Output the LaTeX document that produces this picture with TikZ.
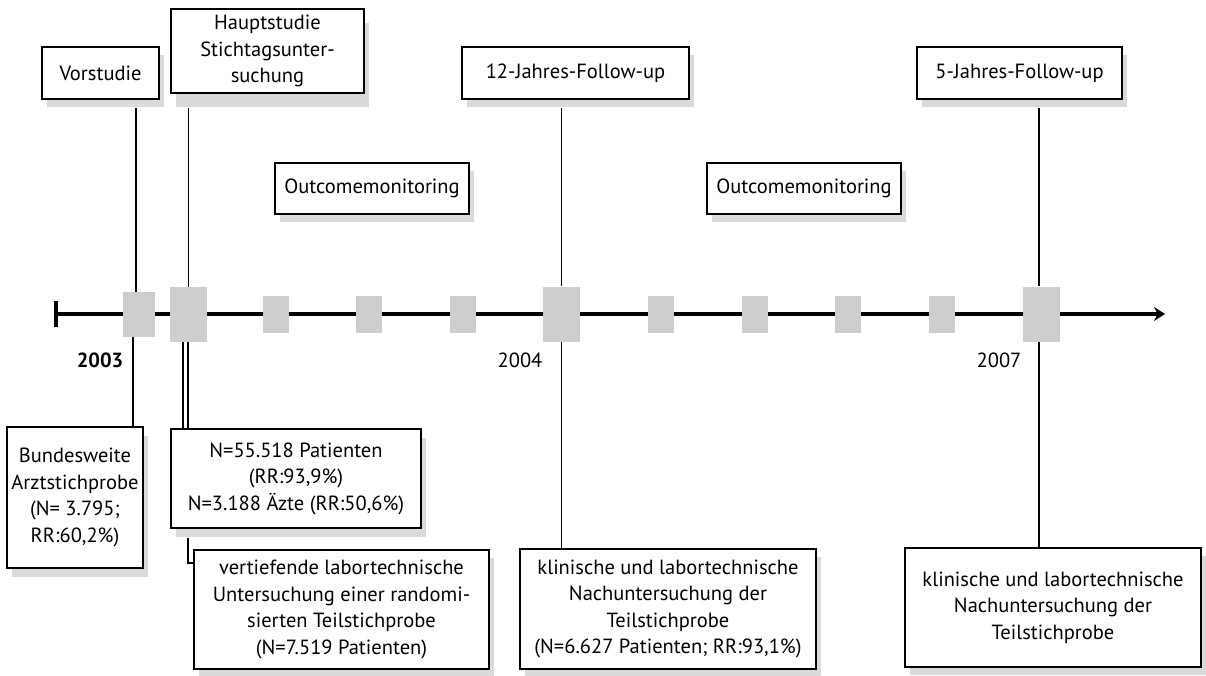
\documentclass[tikz,border=0pt]{standalone}
\usepackage{fontspec}
\setmainfont{PT Sans}
\usetikzlibrary{arrows.meta,shadows,calc}
\definecolor{slotgray}{HTML}{CECECE}
\definecolor{shadowgray}{HTML}{D9DAD9}

\begin{document}
\begin{tikzpicture}[x=1pt,y=-1pt,
    box/.style={draw,line width=1.8pt,fill=white,align=center,inner sep=0pt,
        font=\fontsize{20.5}{26.5}\selectfont,
        drop shadow={shadow xshift=5pt,shadow yshift=#1,fill=shadowgray,opacity=1}},
    box/.default=-8pt,
    slot/.style={fill=slotgray,inner sep=0pt,minimum width=26pt,minimum height=37pt},
    bigslot/.style={slot,minimum width=37pt,minimum height=55pt},
    conn/.style={line width=1.4pt},
    year/.style={font=\fontsize{20.5}{24}\selectfont}]
    \useasboundingbox (0,0) rectangle (1206,676);

    \coordinate (start) at (54,314);
    \coordinate (end) at (1165,314);
    \draw[line width=3.5pt,{Bar[width=26pt]}-{Stealth[length=11pt,width=14pt]}] (start) -- (end);

    \node[slot,minimum width=32pt,minimum height=45pt] (sqvor) at (139,314.5) {};
    \node[bigslot] (sqhaupt) at (188.5,314.5) {};
    \foreach \x [count=\i] in {276,369,463,661,755,848,942}
        \node[slot] (sq\i) at (\x,314.5) {};
    \node[bigslot] (sq12) at (561.5,314) {};
    \node[bigslot] (sq5) at (1041.5,314) {};

    \node[box,minimum width=117pt,minimum height=52pt] (vor) at (100.5,73) {Vorstudie};
    \node[box=-14pt,minimum width=193pt,minimum height=84pt] (haupt) at (267.5,51) {Hauptstudie\\Stichtagsunter-\\suchung};
    \node[box,minimum width=194pt,minimum height=51pt] (out1) at (372,188.5) {Outcomemonitoring};
    \node[box,minimum width=227pt,minimum height=52pt] (jahr12) at (575.5,73) {12-Jahres-Follow-up};
    \node[box,minimum width=194pt,minimum height=51pt] (out2) at (804,188.5) {Outcomemonitoring};
    \node[box,minimum width=205pt,minimum height=52pt] (jahr5) at (1019.5,73) {5-Jahres-Follow-up};

    \node[box=-9pt,minimum width=136pt,minimum height=141pt] (bund) at (75,497.5) {Bundesweite\\Arztstichprobe\\(N= 3.795;\\RR:60,2\%)};
    \node[box=-9pt,minimum width=250pt,minimum height=99pt] (npat) at (296,478.5) {N=55.518 Patienten\\(RR:93,9\%)\\N=3.188 Äzte (RR:50,6\%)};
    \node[box,minimum width=295pt,minimum height=119pt] (vert) at (341.5,609.5) {vertiefende labortechnische\\Untersuchung einer randomi-\\sierten Teilstichprobe\\(N=7.519 Patienten)};
    \node[box,minimum width=296pt,minimum height=120pt] (klin1) at (668,609) {klinische und labortechnische\\Nachuntersuchung der\\Teilstichprobe\\(N=6.627 Patienten; RR:93,1\%)};
    \node[box,minimum width=296pt,minimum height=119pt] (klin2) at (1053,607.5) {klinische und labortechnische\\Nachuntersuchung der\\Teilstichprobe};

    \node[year] (y2003) at (100,360) {\bfseries 2003};
    \node[year] (y2004) at (520,360) {2004};
    \node[year] (y2007) at (999,360) {2007};

    \draw[conn] ($(vor.south)+(35.5,8)$) -- ($(sqvor.north)+(-3,0)$);
    \draw[conn] ($(sqhaupt.north |- haupt.south)+(0,14)$) -- (sqhaupt.north);
    \draw[conn] ($(sq12.north |- jahr12.south)+(0,8)$) -- (sq12.north);
    \draw[conn] ($(sq5.north |- jahr5.south)+(-2.5,8)$) -- ($(sq5.north)+(-2.5,0)$);

    \draw[conn] ($(sqvor.south)+(-6,0)$) -- ($(sqvor.south |- bund.north)+(-6,0)$);
    \draw[conn] ($(sqhaupt.south)+(-5.5,0)$) -- ($(sqhaupt.south |- npat.north)+(-5.5,0)$);
    \draw[conn] ($(sqhaupt.south)+(-0.5,0)$) -- ($(sqhaupt.south |- npat.north)+(-0.5,0)$);
    \draw[conn] ($(sqhaupt.south |- npat.south)+(-0.5,9)$) |- ($(vert.north west)+(0,14)$);
    \draw[conn] (sq12.south) -- (sq12.south |- klin1.north);
    \draw[conn] ($(sq5.south)+(-2.5,0)$) -- ($(sq5.south |- klin2.north)+(-2.5,0)$);
\end{tikzpicture}
\end{document}
